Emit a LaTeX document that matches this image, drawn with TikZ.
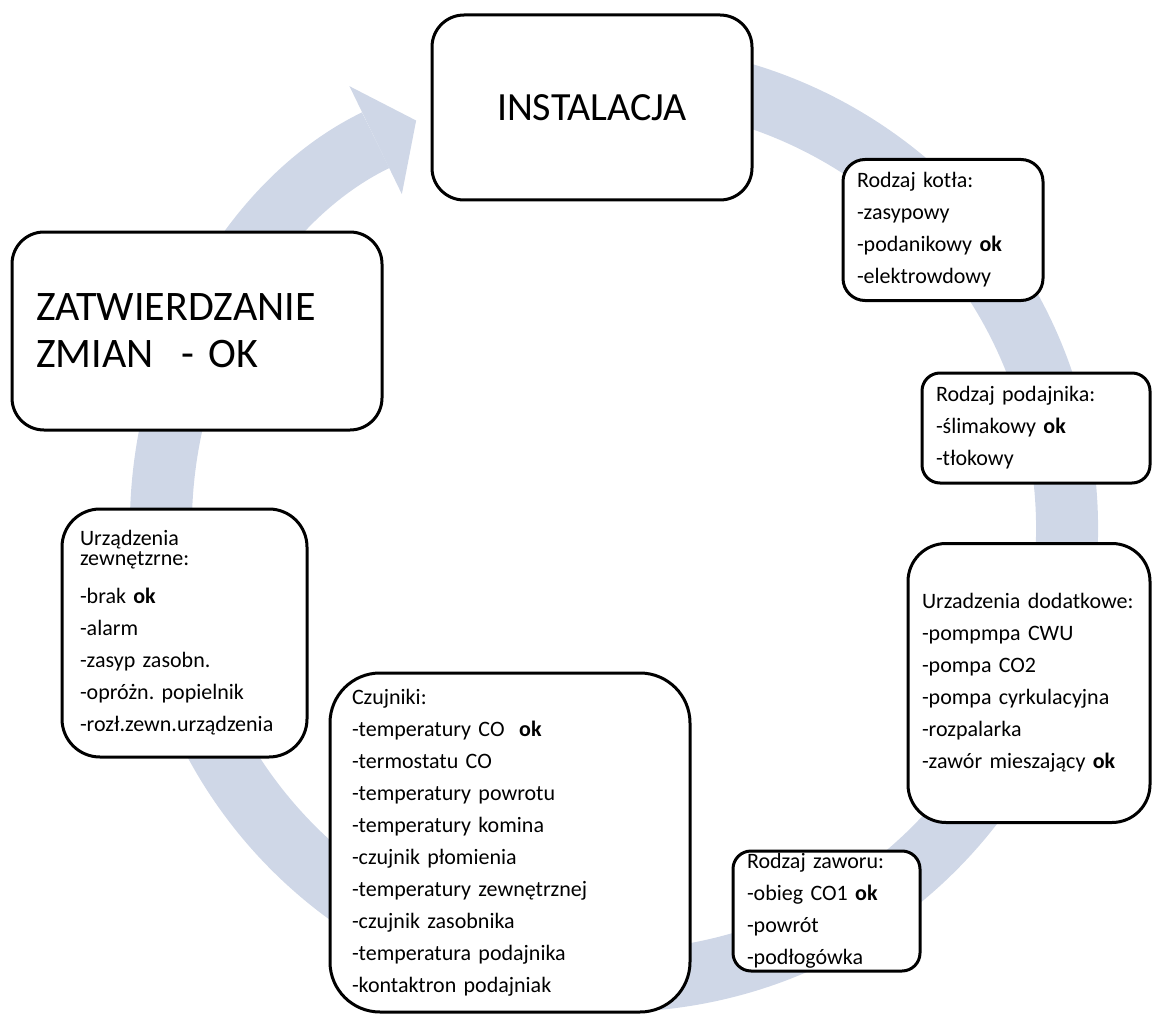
\documentclass[tikz,border=0pt]{standalone}
\usepackage{fontspec}
\setmainfont{Carlito}
\usetikzlibrary{arrows.meta, backgrounds}
\frenchspacing

\definecolor{ringblue}{RGB}{207,215,231}

\begin{document}
\begin{tikzpicture}[x=1pt, y=-1pt,
    infobox/.style={draw, line width=3pt, fill=white, rounded corners=#1,
      align=left, inner xsep=14pt, inner ysep=0pt,
      font=\fontsize{22}{32}\selectfont},
    infobox/.default=22pt,
    bigbox/.style={infobox=32pt, font=\fontsize{42}{47}\selectfont},
    ring/.style={ringblue, line width=62pt}]
  \useasboundingbox (0,0) rectangle (1152,1014);

  \node[bigbox, align=center, font=\fontsize{40}{47}\selectfont, minimum width=320pt, minimum height=185pt] (inst) at (592,107.5) {INSTALACJA};
  \node[bigbox, text width=322pt, inner xsep=24pt, minimum height=198pt] (zatw) at (197,331) {ZATWIERDZANIE\\ZMIAN\ \ - OK};

  \node[infobox, text width=172pt, minimum height=141pt] (kociol) at (943,230)
    {Rodzaj kotła:\\-zasypowy\\-podanikowy \textbf{ok}\\-elektrowdowy};
  \node[infobox=18pt, text width=200pt, minimum height=110pt] (podajnik) at (1036,428)
    {Rodzaj podajnika:\\-ślimakowy \textbf{ok}\\-tłokowy};
  \node[infobox=38pt, text width=214pt, minimum height=279pt] (dodatkowe) at (1029,683)
    {Urzadzenia dodatkowe:\\-pompmpa CWU\\-pompa CO2\\-pompa cyrkulacyjna\\-rozpalarka\\-zawór mieszający \textbf{ok}};
  \node[infobox=18pt, text width=159pt, minimum height=120pt] (zawor) at (826.5,911)
    {Rodzaj zaworu:\\-obieg CO1 \textbf{ok}\\-powrót\\-podłogówka};
  \node[infobox=50pt, text width=316pt, inner xsep=22pt, minimum height=339pt] (czujniki) at (510,842.5)
    {Czujniki:\\-temperatury CO\ \ \textbf{ok}\\-termostatu CO\\-temperatury powrotu\\-temperatury komina\\-czujnik płomienia\\-temperatury zewnętrznej\\-czujnik zasobnika\\-temperatura podajnika\\-kontaktron podajniak};
  \node[infobox=38pt, text width=209pt, inner xsep=18pt, minimum height=248pt] (zewnetrzne) at (184.5,633)
    {Urządzenia\\[-12pt]zewnętzrne:\\[6pt]-brak \textbf{ok}\\-alarm\\-zasyp zasobn.\\-opróżn. popielnik\\-rozł.zewn.urządzenia};

  \begin{scope}[on background layer]
    \coordinate (mid) at (614,528);
    \draw[ring, -{Triangle[width=120pt, length=45pt, line width=0pt]}]
      (mid) ++(260:453) arc[start angle=260, end angle=604.1, radius=453];
  \end{scope}
\end{tikzpicture}
\end{document}
